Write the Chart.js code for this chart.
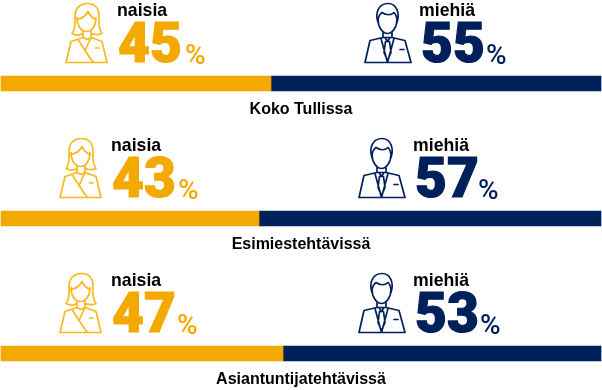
<!DOCTYPE html>
<html><head><meta charset="utf-8">
<style>html,body{margin:0;padding:0;background:#fff}#w{width:602px;height:390px;position:relative}</style>
<script src="https://cdn.jsdelivr.net/npm/chart.js@4"></script></head>
<body><div id="w"><canvas id="c" width="602" height="390"></canvas></div>
<script>
const categories = ["Koko Tullissa", "Esimiestehtävissä", "Asiantuntijatehtävissä"];
const seriesNames = ["naisia", "miehiä"];
const women = [45, 43, 47];
const men = [55, 57, 53];

const ORANGE = "#F4A900", NAVY = "#00205B", ICON_ORANGE = "#FBB81E", PCT = "%";
const SANS = '"Liberation Sans", Arial, sans-serif';
const HEAVY = '900 55px Roboto, sans-serif';
// per-row horizontal offsets of the annotation blocks, relative to the first row
const blockShift = [{f:0,m:0},{f:-6,m:-6},{f:-6,m:-6}];
const pctGap = [{f:185,m:486},{f:178,m:478},{f:177,m:480}];

const femaleIcon = new Path2D(
 "M72 33 C76 28 75 22 75 16 C75 7 81 3 87 3 C95 3 99 8 99 16 C99 22 98 28 102 33 C98 35 94 34 91 33" +
 "M72 33 C76 35 80 35 83 33" +
 "M77 19 C82 18 86 15 88 11 C90 15 93 18 96 19" +
 "M77 17 C77 25 81 31 86.5 31 C92 31 96 25 96 17" +
 "M83 30 L83 37 L87 39 L91 37 L91 30" +
 "M83 37 L71 41 L66 62 L107 62 L102 41 L91 37" +
 "M78 39 L91 59 L94 62 M91 37 L85 50");
const femalePocket = new Path2D("M95.5 47.5 L99 47.5");
const maleIcon = new Path2D(
 "M378 22 C375 13 378 3 388 3 C397 3 400 13 397 22" +
 "M378 21 C378 15 380 14 382 12 C386 15 391 15 394 12 C396 14 397 16 397 21" +
 "M378 19 C378 27 383 33 387.5 33 C392 33 397 27 397 19" +
 "M383 31 L383 37 L392 37 L392 31" +
 "M383 37 L370 40 L365 62 L411 62 L405 40 L392 37" +
 "M381 38 L387.5 62 L394 38" +
 "M385 37 L387.5 41 L390 37 M385.5 41 L389.5 41 L391 52 L387.5 60 L384 52 Z");
const malePocket = new Path2D("M400 49 L404 49");

const annotate = {
  id: "annotate",
  afterDatasetsDraw(chart) {
    const g = chart.ctx, y = chart.scales.y;
    g.save();
    categories.forEach((name, i) => {
      const cy = y.getPixelForValue(i);
      const ty = cy - y.getPixelForValue(0);
      const s = blockShift[i];
      g.lineWidth = 1.7; g.lineJoin = "round"; g.lineCap = "round";
      g.save(); g.translate(s.f, ty + 0.5); g.strokeStyle = ICON_ORANGE; g.stroke(femaleIcon); g.stroke(femalePocket); g.restore();
      g.save(); g.translate(s.m, ty + 0.5); g.strokeStyle = NAVY; g.stroke(maleIcon); g.stroke(malePocket); g.restore();
      g.textBaseline = "alphabetic"; g.textAlign = "left";
      g.fillStyle = "#000"; g.font = "bold 17.7px " + SANS;
      g.fillText(seriesNames[0], 117 + s.f, 16 + ty);
      g.fillText(seriesNames[1], 419 + s.m, 16 + ty);
      g.font = HEAVY; g.lineJoin = "miter"; g.lineWidth = 1.2;
      g.fillStyle = g.strokeStyle = ORANGE;
      g.fillText(String(women[i]), 118 + s.f, 62 + ty); g.strokeText(String(women[i]), 118 + s.f, 62 + ty);
      g.fillStyle = g.strokeStyle = NAVY;
      g.fillText(String(men[i]), 421 + s.m, 62 + ty); g.strokeText(String(men[i]), 421 + s.m, 62 + ty);
      g.font = '500 28px Roboto, sans-serif';
      g.fillStyle = ORANGE; g.fillText(PCT, pctGap[i].f, 63.5 + ty);
      g.fillStyle = NAVY; g.fillText(PCT, pctGap[i].m, 63.5 + ty);
      g.textAlign = "center"; g.fillStyle = "#000"; g.font = "bold 16px " + SANS;
      g.fillText(name, 301, cy + 30);
    });
    g.restore();
  }
};

new Chart(document.getElementById("c"), {
  type: "bar",
  data: { labels: categories, datasets: [
    { label: seriesNames[0], data: women, backgroundColor: ORANGE, clip: false },
    { label: seriesNames[1], data: men, backgroundColor: NAVY, clip: false }
  ]},
  plugins: [annotate],
  options: {
    indexAxis: "y", responsive: false, animation: false,
    barThickness: 15,
    layout: { padding: { left: 1, right: 1, top: 83.5, bottom: 36.5 } },
    plugins: { legend: { display: false }, tooltip: { enabled: false }, title: { display: false } },
    scales: {
      x: { stacked: true, min: 0, max: 100, display: false },
      y: { stacked: true, display: false, offset: false, grid: { display: false } }
    }
  }
});
</script></body></html>
